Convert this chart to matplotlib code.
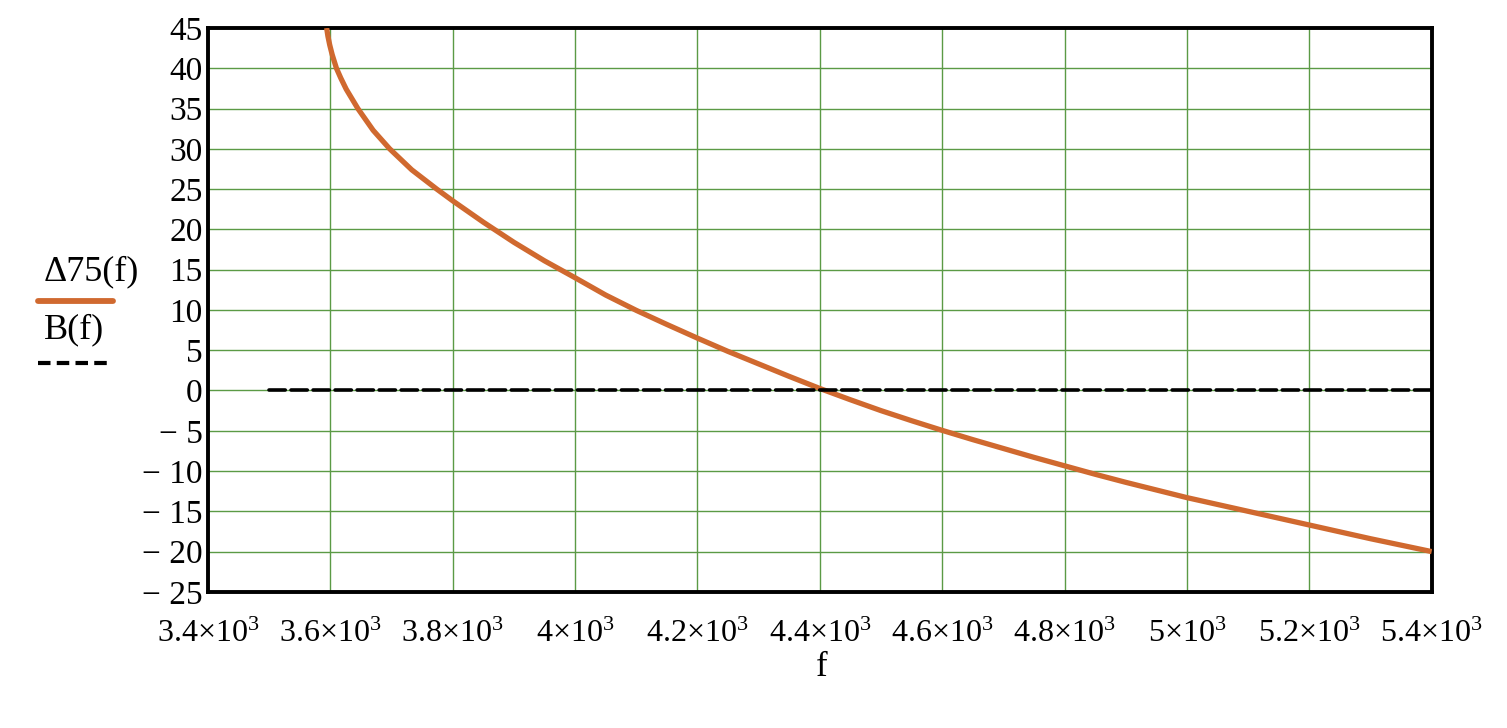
import matplotlib.pyplot as plt
from matplotlib.lines import Line2D

plt.rcParams['font.family'] = ['Liberation Serif', 'DejaVu Serif']
plt.rcParams['mathtext.fontset'] = 'custom'
plt.rcParams['mathtext.rm'] = 'Liberation Serif'
plt.rcParams['mathtext.it'] = 'Liberation Serif:italic'

# values
f_delta = [3594, 3596, 3599, 3603, 3610, 3617, 3626, 3645, 3670, 3697, 3733, 3774,
           3800, 3850, 3900, 3950, 4000, 4050, 4100, 4150, 4200, 4250, 4300, 4350,
           4400, 4450, 4500, 4550, 4600, 4650, 4700, 4750, 4800, 4850, 4900, 4950,
           5000, 5050, 5100, 5150, 5200, 5250, 5300, 5350, 5400]
delta75 = [45, 44.0, 42.9, 41.7, 40.0, 38.8, 37.4, 35.0, 32.3, 30.0, 27.4, 25.0,
           23.55, 20.9, 18.4, 16.1, 14.0, 11.85, 9.95, 8.2, 6.5, 4.85, 3.3, 1.75,
           0.25, -1.15, -2.5, -3.75, -4.95, -6.1, -7.2, -8.3, -9.35, -10.4, -11.4, -12.35,
           -13.3, -14.15, -15.0, -15.85, -16.7, -17.55, -18.4, -19.2, -20.0]
f_b = [3500, 5400]
b_vals = [0, 0]

x_ticks = [3400, 3600, 3800, 4000, 4200, 4400, 4600, 4800, 5000, 5200, 5400]
x_labels = [r'$\mathrm{3.4{\times}10^{3}}$', r'$\mathrm{3.6{\times}10^{3}}$',
            r'$\mathrm{3.8{\times}10^{3}}$', r'$\mathrm{4{\times}10^{3}}$',
            r'$\mathrm{4.2{\times}10^{3}}$', r'$\mathrm{4.4{\times}10^{3}}$',
            r'$\mathrm{4.6{\times}10^{3}}$', r'$\mathrm{4.8{\times}10^{3}}$',
            r'$\mathrm{5{\times}10^{3}}$', r'$\mathrm{5.2{\times}10^{3}}$',
            r'$\mathrm{5.4{\times}10^{3}}$']
y_ticks = list(range(-25, 50, 5))
y_labels = [('\u2212 ' + str(-v)) if v < 0 else str(v) for v in y_ticks]

orange = '#D0692F'
grid_green = '#5B9A45'

fig = plt.figure(figsize=(15.07, 7.28), dpi=100)
ax = fig.add_axes([0.138, 0.187, 0.812, 0.7745])

ax.plot(f_delta, delta75, color=orange, lw=3.8, solid_capstyle='butt',
        solid_joinstyle='round', zorder=3)
ax.plot(f_b, b_vals, color='black', lw=2.6, dashes=(4.5, 1.6), dash_capstyle='round', zorder=4)

ax.set_xlim(3400, 5400)
ax.set_ylim(-25, 45)
ax.set_xticks(x_ticks)
ax.set_xticklabels(x_labels, fontsize=23)
ax.set_yticks(y_ticks)
ax.set_yticklabels(y_labels, fontsize=24)
ax.tick_params(length=0, pad=4)
ax.tick_params(axis='x', pad=20)
ax.grid(True, color=grid_green, lw=1.0)
ax.set_axisbelow(True)
for s in ax.spines.values():
    s.set_linewidth(2.8)
    s.set_color('black')

fig.text(0.545, 0.083, 'f', fontsize=25, ha='center', va='center')

# legend on the left
fig.text(0.029, 0.626, '\u039475(f)', fontsize=26, ha='left', va='center')
fig.add_artist(Line2D([0.025, 0.075], [0.587, 0.587], color=orange, lw=4.2,
                      solid_capstyle='round', transform=fig.transFigure))
fig.text(0.029, 0.547, 'B(f)', fontsize=26, ha='left', va='center')
fig.add_artist(Line2D([0.025, 0.075], [0.501, 0.501], color='black', lw=3.0,
                      dashes=(3, 1.5), transform=fig.transFigure))

fig.savefig('out.png', dpi=100)
